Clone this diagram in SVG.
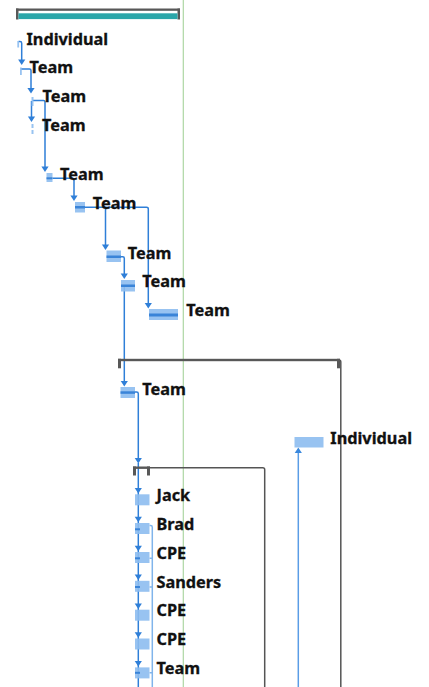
<svg xmlns="http://www.w3.org/2000/svg" xmlns:xlink="http://www.w3.org/1999/xlink" width="429" height="687" viewBox="0 0 429 687">
<style>
.lbl{font-family:"Noto Sans","Open Sans","DejaVu Sans",sans-serif;font-weight:bold;font-size:16.3px;fill:#111;stroke:#111;stroke-width:0.3}
.bar{fill:#8dbdf0;opacity:0.9}
.stripe{fill:#3a84d8}
.con{fill:none;stroke:#2f7fd8;stroke-width:1.5}
.conl{fill:none;stroke:#80b4eb;stroke-width:1.5}
.conm{fill:none;stroke:#5a9de6;stroke-width:1.5}
.gray{fill:#585858}
.gl{fill:none;stroke:#555;stroke-width:1.5}
.ah{fill:#2f7fd8}
</style>
<defs>
<path id="ah" d="M-3.6,-5.5 H3.6 L0,0 Z"/>
</defs>
<rect width="429" height="687" fill="#fff"/>
<line x1="183.3" y1="0" x2="183.3" y2="687" stroke="#add6a3" stroke-width="1.2"/>

<g id="connectors">
<path class="con" d="M18.5,41.5 H20 Q21.7,41.5 21.7,43.2 V60"/>
<path class="con" d="M21,69 H29.5 Q31,69 31,70.5 V89"/>
<path class="con" d="M32.5,100.5 H43.5 Q45,100.5 45,102 V167"/>
<path class="con" d="M31.5,101 V117"/>
<path class="con" d="M52.5,178.3 H72.5 Q74,178.3 74,180 V196"/>
<path class="con" d="M85,207.3 H146.5 Q148.3,207.3 148.3,209 V303"/>
<path class="con" d="M105.5,207.3 V245"/>
<path class="con" d="M121,256.8 H122.8 Q124.3,256.8 124.3,258.3 V274"/>
<path class="con" d="M124.3,285 V381"/>
<path class="con" d="M135,392 H136.6 Q138.3,392 138.3,393.7 V458"/>
<path class="con" d="M138.3,463 V687"/>
<path class="conl" d="M149.5,525.5 H150.6 Q152.3,525.5 152.3,527.2 V687 M149.5,558.3 H152.3 M149.5,587 H152.3 M149.5,672.7 H152.3"/>
<path class="conm" d="M298.3,452 V687"/>
<path class="gl" d="M336,360 H339 Q340.8,360 340.8,362 V687"/>
<path class="gl" d="M148,467.7 H262.8 Q264.7,467.7 264.7,469.6 V687" stroke-width="1.8"/>
<g class="ah">
<use xlink:href="#ah" x="21.7" y="65"/>
<use xlink:href="#ah" x="31" y="93.5"/>
<use xlink:href="#ah" x="31.5" y="122"/>
<use xlink:href="#ah" x="45" y="172"/>
<use xlink:href="#ah" x="74" y="201"/>
<use xlink:href="#ah" x="105.5" y="250"/>
<use xlink:href="#ah" x="124.3" y="279"/>
<use xlink:href="#ah" x="148.3" y="308.5"/>
<use xlink:href="#ah" x="124.3" y="386.5"/>
<use xlink:href="#ah" x="138.3" y="463.5"/>
<use xlink:href="#ah" x="138.3" y="493.5"/>
<use xlink:href="#ah" x="138.3" y="522.3"/>
<use xlink:href="#ah" x="138.3" y="551.2"/>
<use xlink:href="#ah" x="138.3" y="580"/>
<use xlink:href="#ah" x="138.3" y="608.9"/>
<use xlink:href="#ah" x="138.3" y="637.7"/>
<use xlink:href="#ah" x="138.3" y="666.6"/>
<use xlink:href="#ah" transform="translate(298.3,447.5) rotate(180)" fill="#3a88dd"/>
</g>
</g>

<g id="summary-top">
<rect class="gray" x="16" y="8.5" width="164" height="2.3"/>
<rect class="gray" x="16" y="8.5" width="2.5" height="11"/>
<rect class="gray" x="177.5" y="8.5" width="2.5" height="11"/>
<rect x="18.5" y="13.3" width="159" height="5.8" fill="#2ba6a9"/>
</g>

<g id="task1"><rect class="bar" x="17.3" y="41" width="1.8" height="6.5"/><text class="lbl" x="26.5" y="44.5">Individual</text></g>
<g id="task2"><rect class="bar" x="20" y="67.5" width="1.8" height="7.5"/><text class="lbl" x="29.5" y="73.4">Team</text></g>
<g id="task3"><rect class="bar" x="31.5" y="97" width="2" height="9"/><text class="lbl" x="42.5" y="102.2">Team</text></g>
<g id="task4"><rect class="bar" x="31.5" y="124" width="2" height="4"/><rect class="bar" x="31.5" y="130" width="2" height="4"/><text class="lbl" x="42" y="131">Team</text></g>
<g id="task5"><rect class="bar" x="46.5" y="173" width="6" height="9"/><rect class="stripe" x="46.5" y="177.3" width="6" height="2"/><text class="lbl" x="60" y="180">Team</text></g>
<g id="task6"><rect class="bar" x="75" y="202" width="10" height="10.5"/><rect class="stripe" x="75" y="206" width="10" height="2.5"/><text class="lbl" x="92.8" y="208.8">Team</text></g>
<g id="task7"><rect class="bar" x="106.5" y="250.5" width="14.5" height="11.5"/><rect class="stripe" x="106.5" y="255.5" width="14.5" height="2.5"/><text class="lbl" x="127.8" y="258.5">Team</text></g>
<g id="task8"><rect class="bar" x="121" y="280" width="14" height="11.5"/><rect class="stripe" x="121" y="284.5" width="14" height="2.5"/><text class="lbl" x="142.2" y="287.3">Team</text></g>
<g id="task9"><rect class="bar" x="149" y="309" width="29" height="11"/><rect class="stripe" x="149" y="313.5" width="29" height="3"/><text class="lbl" x="186.2" y="316.1">Team</text></g>

<g id="summary-mid">
<rect class="gray" x="118" y="358.8" width="222" height="2.4"/>
<rect class="gray" x="118" y="358.8" width="3" height="9.5"/>
<rect class="gray" x="337" y="358.8" width="3" height="9.5"/>
</g>

<g id="task10"><rect class="bar" x="120.5" y="387" width="14.5" height="11"/><rect class="stripe" x="120.5" y="391.3" width="14.5" height="2.5"/><text class="lbl" x="142.2" y="394.5">Team</text></g>
<g id="task11"><rect class="bar" x="294.5" y="437" width="29" height="10.5"/><text class="lbl" x="330.3" y="443.5">Individual</text></g>

<g id="summary-sub">
<rect class="gray" x="133" y="466.5" width="17" height="2.4"/>
<rect class="gray" x="133" y="466.5" width="3" height="9"/>
<rect class="gray" x="147" y="466.5" width="3" height="9"/>
</g>

<g id="task-jack"><rect class="bar" x="135" y="494.3" width="14.5" height="11"/><text class="lbl" x="156.5" y="501">Jack</text></g>
<g id="task-brad"><rect class="bar" x="135" y="523" width="14.5" height="11"/><rect class="stripe" x="135" y="528.3" width="5" height="2"/><text class="lbl" x="156.5" y="529.8">Brad</text></g>
<g id="task-cpe1"><rect class="bar" x="135" y="552" width="14.5" height="11"/><rect class="stripe" x="135" y="557.3" width="5" height="2"/><text class="lbl" x="156.5" y="558.7">CPE</text></g>
<g id="task-sanders"><rect class="bar" x="135" y="580.8" width="14.5" height="11"/><rect class="stripe" x="135" y="586" width="5" height="2"/><text class="lbl" x="156.5" y="587.5">Sanders</text></g>
<g id="task-cpe2"><rect class="bar" x="135" y="609.7" width="14.5" height="11"/><text class="lbl" x="156.5" y="616.4">CPE</text></g>
<g id="task-cpe3"><rect class="bar" x="135" y="638.5" width="14.5" height="11"/><text class="lbl" x="156.5" y="645.2">CPE</text></g>
<g id="task-team"><rect class="bar" x="135" y="667.4" width="14.5" height="11"/><rect class="stripe" x="135" y="671.8" width="5" height="2"/><text class="lbl" x="156.5" y="674.1">Team</text></g>
</svg>
